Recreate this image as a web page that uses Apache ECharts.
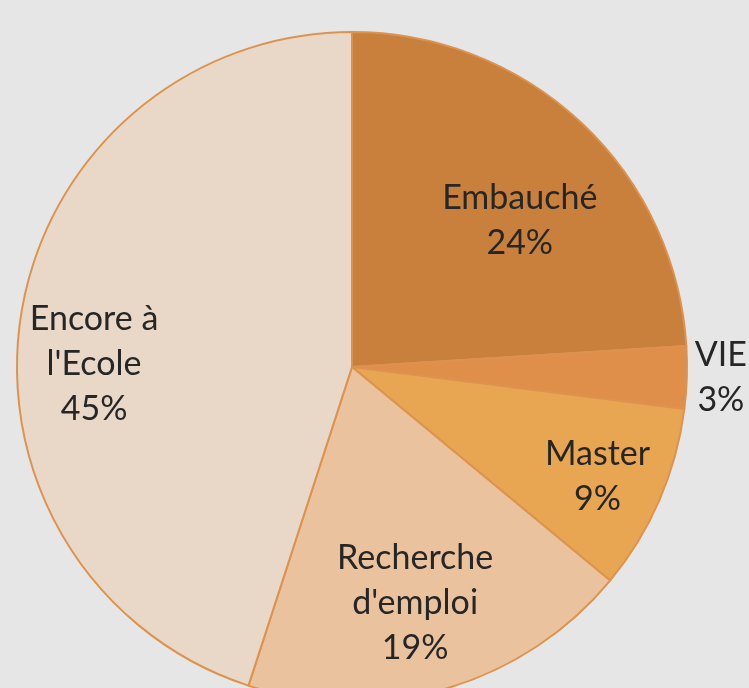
<!DOCTYPE html>
<html><head><meta charset="utf-8">
<script src="https://cdn.jsdelivr.net/npm/echarts@6/dist/echarts.min.js"></script>
<style>html,body{margin:0;padding:0;background:#e6e6e6;}#c{width:749px;height:688px;}</style>
</head><body><div id="c"></div>
<script>
const categories = ["Embauché", "VIE", "Master", "Recherche\nd'emploi", "Encore à\nl'Ecole"];
const values = [24, 3, 9, 19, 45];
const colors = ["#C8803C", "#E08F4A", "#E8A652", "#EBC29E", "#E9D8C7"];
const labelOffsets = [[-2, 34], [121, 3], [18, 11], [-6, -2], [-13, 36]];

const chart = echarts.init(document.getElementById('c'), null, {renderer: 'canvas'});
const center = [352, 367];
const R = 335;
const mainData = categories.map((n, i) => ({name: n, value: values[i], itemStyle: {color: colors[i]}}));
const labelData = categories.map((n, i) => ({name: n, value: values[i], label: {offset: labelOffsets[i]}}));
chart.setOption({
  backgroundColor: '#e6e6e6',
  animation: false,
  series: [
    {
      type: 'pie', center: center, radius: [0, R], startAngle: 90, clockwise: true,
      label: {show: false}, labelLine: {show: false}, silent: true,
      itemStyle: {borderColor: '#DC9350', borderWidth: 2},
      data: mainData
    },
    {
      type: 'pie', center: center, radius: [0, 2 * 245], startAngle: 90, clockwise: true,
      silent: true, z: 5,
      itemStyle: {color: 'rgba(0,0,0,0)', borderWidth: 0},
      labelLine: {show: false},
      label: {
        show: true, position: 'inside',
        formatter: p => p.name + '\n' + p.value + '%',
        fontFamily: 'Lato, "Open Sans", sans-serif', fontSize: 34, lineHeight: 45,
        color: '#262626', align: 'center'
      },
      data: labelData
    }
  ]
});
</script></body></html>
